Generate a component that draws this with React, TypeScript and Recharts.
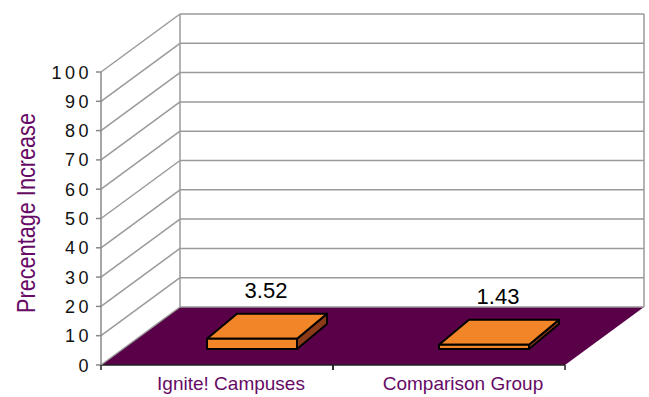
import React from 'react';
import { BarChart, Bar, XAxis, YAxis, CartesianGrid, LabelList } from 'recharts';

const categories = ['Ignite! Campuses', 'Comparison Group'];
const increases = [3.52, 1.43];
const yTicks = [0, 10, 20, 30, 40, 50, 60, 70, 80, 90, 100];

const data = categories.map((name, i) => ({ name, increase: increases[i] }));

const W = 649;
const H = 397;
const MARGIN = { top: 72, right: 84, bottom: 0, left: 0 };
const Y_AXIS_W = 101;
const X_AXIS_H = 32;
const PLOT_LEFT = MARGIN.left + Y_AXIS_W;
const PLOT_RIGHT = W - MARGIN.right;
const PLOT_TOP = MARGIN.top;
const PLOT_BOTTOM = H - MARGIN.bottom - X_AXIS_H;
const BAND = (PLOT_RIGHT - PLOT_LEFT) / categories.length;

// depth of the floor and side wall
const DX = 79;
const DY = -58;
// where the slabs sit in the depth, and how deep they are
const BAR_DX = 35;
const BAR_DY = -16;
const SLAB_DX = 30;
const SLAB_DY = -25;

const FONT = "Arial, 'Liberation Sans', sans-serif";
const FLOOR = '#5a0048';
const TEXT_PURPLE = '#660a66';
const ORANGE = '#f28527';
const BROWN = '#8b3a18';
const GRID = '#9a9a9a';

// each horizontal grid line becomes a side-wall diagonal plus a back-wall line
const WallLine = (props: any) => {
  const { y1, index } = props;
  const bx = PLOT_LEFT + DX;
  const by = y1 + DY;
  const rx = PLOT_RIGHT + DX;
  const isFloor = Math.abs(y1 - PLOT_BOTTOM) < 0.5;
  return (
    <g key={`wall-${index}`}>
      {isFloor && (
        <>
          <polygon
            points={`${PLOT_LEFT},${y1} ${bx},${by} ${rx},${by} ${PLOT_RIGHT},${y1}`}
            fill={FLOOR}
          />
          <line x1={bx} y1={PLOT_TOP + DY} x2={bx} y2={by} stroke={GRID} strokeWidth={1.5} />
          <line x1={rx} y1={PLOT_TOP + DY} x2={rx} y2={by} stroke={GRID} strokeWidth={1.5} />
          <line x1={PLOT_LEFT} y1={y1} x2={PLOT_RIGHT} y2={y1} stroke="#222" strokeWidth={1.5} />
        </>
      )}
      <line x1={PLOT_LEFT} y1={y1} x2={bx} y2={by} stroke={GRID} strokeWidth={1.5} />
      <line x1={bx} y1={by} x2={rx} y2={by} stroke={GRID} strokeWidth={1.5} />
    </g>
  );
};

const ValueTick = ({ y, payload }: any) => (
  <text
    x={PLOT_LEFT - 9}
    y={y}
    dy={6.5}
    textAnchor="end"
    fontFamily={FONT}
    fontSize={18}
    letterSpacing={3.5}
    fill="#111"
  >
    {payload.value}
  </text>
);

const CategoryTick = ({ x, payload }: any) => (
  <g>
    <line x1={x - BAND / 2} y1={PLOT_BOTTOM} x2={x - BAND / 2} y2={PLOT_BOTTOM + 5} stroke="#222" strokeWidth={1.5} />
    <line x1={x + BAND / 2} y1={PLOT_BOTTOM} x2={x + BAND / 2} y2={PLOT_BOTTOM + 5} stroke="#222" strokeWidth={1.5} />
    <text x={x + 14} y={PLOT_BOTTOM + 25} textAnchor="middle" fontFamily={FONT} fontSize={19} fill={TEXT_PURPLE}>
      {payload.value}
    </text>
  </g>
);

// flat 3D slab: right side, top, then front face
const Slab = (props: any) => {
  const { x, y, width, height } = props;
  const fx = x + BAR_DX;
  const fy = y + BAR_DY;
  const r = fx + width;
  const b = fy + height;
  return (
    <g stroke="#000" strokeWidth={2} strokeLinejoin="round">
      <polygon
        points={`${r},${fy} ${r + SLAB_DX},${fy + SLAB_DY} ${r + SLAB_DX},${b + SLAB_DY} ${r},${b}`}
        fill={BROWN}
      />
      <polygon
        points={`${fx},${fy} ${fx + SLAB_DX},${fy + SLAB_DY} ${r + SLAB_DX},${fy + SLAB_DY} ${r},${fy}`}
        fill={ORANGE}
      />
      <rect x={fx} y={fy} width={width} height={height} fill={ORANGE} />
    </g>
  );
};

const renderValue = (props: any) => {
  const { x, y, width, value } = props;
  return (
    <text x={x + width / 2 + 49} y={y - 57} textAnchor="middle" fontFamily={FONT} fontSize={22} fill="#000">
      {value}
    </text>
  );
};

const renderTitle = () => (
  <text
    transform="translate(35,213) rotate(-90)"
    textAnchor="middle"
    fontFamily="'Liberation Sans Narrow', 'Arial Narrow', Arial, sans-serif"
    fontSize={26}
    textLength={200}
    lengthAdjust="spacingAndGlyphs"
    fill={TEXT_PURPLE}
  >
    Precentage Increase
  </text>
);

export default function App() {
  return (
    <>
      <style>{'body{margin:0;background:#fff}'}</style>
      <BarChart width={W} height={H} data={data} margin={MARGIN}>
        <CartesianGrid horizontal={WallLine} vertical={false} />
        <YAxis
          type="number"
          domain={[0, 100]}
          ticks={yTicks}
          width={Y_AXIS_W}
          interval={0}
          tick={<ValueTick />}
          tickSize={5}
          tickLine={{ stroke: '#888', strokeWidth: 1.5 }}
          axisLine={{ stroke: '#888', strokeWidth: 1.5 }}
          label={{ content: renderTitle }}
        />
        <XAxis
          dataKey="name"
          height={X_AXIS_H}
          tick={<CategoryTick />}
          tickLine={false}
          axisLine={false}
          interval={0}
        />
        <Bar dataKey="increase" barSize={90} shape={<Slab />} isAnimationActive={false}>
          <LabelList dataKey="increase" content={renderValue} />
        </Bar>
      </BarChart>
    </>
  );
}
